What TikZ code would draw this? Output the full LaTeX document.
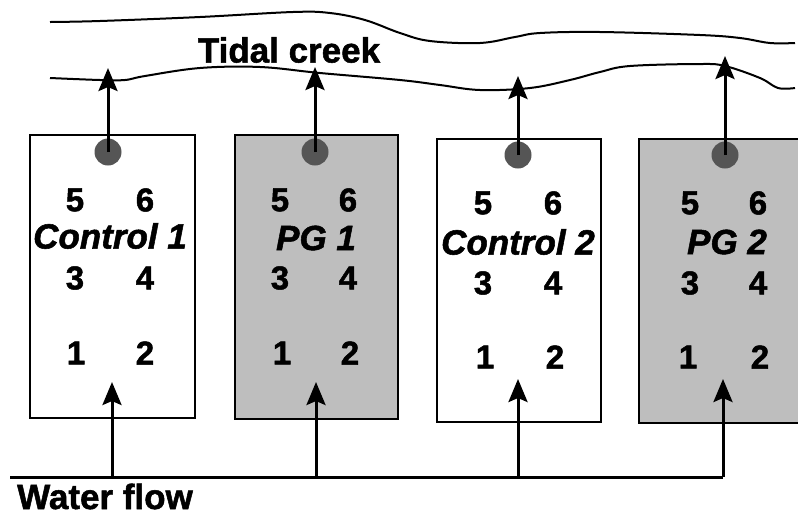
\documentclass[tikz,border=0pt]{standalone}
\usepackage{fontspec}
\setmainfont{Liberation Sans}[BoldFeatures={FakeBold=1.5}, BoldItalicFeatures={FakeBold=1.5}]
\usetikzlibrary{arrows.meta}
\definecolor{plotgray}{HTML}{BEBEBE}
\definecolor{dotgray}{HTML}{555555}
\tikzset{
  plotbox/.style={draw=black, line width=2pt, rectangle, inner sep=0pt},
  ctrlbox/.style={plotbox, fill=white},
  pgbox/.style={plotbox, fill=plotgray},
  outlet/.style={circle, fill=dotgray, minimum size=27pt, inner sep=0pt},
  digit/.style={inner sep=0pt, font=\fontsize{33}{33}\selectfont\bfseries},
  plotlabel/.style={inner sep=0pt, font=\fontsize{35}{35}\selectfont\bfseries\itshape},
  title/.style={inner sep=0pt, font=\fontsize{35}{35}\selectfont\bfseries},
  flow/.style={line width=3pt, -{Stealth[length=23pt,width=19pt,inset=4pt]}},
  shore/.style={line width=2pt}
}
\begin{document}
\begin{tikzpicture}[x=1pt,y=-1pt]
\useasboundingbox (0,0) rectangle (798,515);
% creek banks
\draw[shore] plot[smooth, tension=0.6] coordinates {(50,22) (100,21) (200,17) (293,12) (330,13) (365,20) (400,33) (430,41) (480,43) (515,37) (540,33) (600,32) (700,35) (740,38) (770,43) (795,43)};
\draw[shore] plot[smooth, tension=0.6] coordinates {(50,78) (100,80) (125,80) (145,76) (200,68) (260,67) (320,73) (400,80) (440,85) (480,90) (530,88) (570,80) (600,72) (630,66) (700,64) (725,66) (760,78) (778,88) (795,88)};
\node[title] (creek) at (289,50) {Tidal creek};
% plots
\node[ctrlbox, minimum width=165pt, minimum height=283pt] (p1) at (112.5,276.5) {};
\node[pgbox, minimum width=163pt, minimum height=284pt] (p2) at (316.5,277) {};
\node[ctrlbox, minimum width=164pt, minimum height=283pt] (p3) at (519,280.5) {};
\node[pgbox, minimum width=166pt, minimum height=284pt] (p4) at (722,281) {};
% outlets
\node[outlet] (d1) at (108,152) {};
\node[outlet] (d2) at (315,152) {};
\node[outlet] (d3) at (518,155) {};
\node[outlet] (d4) at (725,155) {};
% outflow tips
\coordinate (c1) at (108,68);
\coordinate (c2) at (315,67);
\coordinate (c3) at (518,76);
\coordinate (c4) at (725,56);
\draw[flow] (d1.center) -- (c1);
\draw[flow] (d2.center) -- (c2);
\draw[flow] (d3.center) -- (c3);
\draw[flow] (d4.center) -- (c4);
% labels box 1
\node[digit] (b1n5) at (75,200) {5};
\node[digit] (b1n6) at (145,200) {6};
\node[plotlabel] (l1) at (110,236) {Control 1};
\node[digit] (b1n3) at (75,278) {3};
\node[digit] (b1n4) at (145,278) {4};
\node[digit] (b1n1) at (76,353) {1};
\node[digit] (b1n2) at (145,353) {2};
% box 2
\node[digit] (b2n5) at (280,200) {5};
\node[digit] (b2n6) at (348,200) {6};
\node[plotlabel] (l2) at (316,238) {PG 1};
\node[digit] (b2n3) at (280,278) {3};
\node[digit] (b2n4) at (348,278) {4};
\node[digit] (b2n1) at (282,353) {1};
\node[digit] (b2n2) at (350,353) {2};
% box 3
\node[digit] (b3n5) at (483,203) {5};
\node[digit] (b3n6) at (553,203) {6};
\node[plotlabel] (l3) at (518,242) {Control 2};
\node[digit] (b3n3) at (483,283) {3};
\node[digit] (b3n4) at (553,283) {4};
\node[digit] (b3n1) at (485,357) {1};
\node[digit] (b3n2) at (555,357) {2};
% box 4
\node[digit] (b4n5) at (690,203) {5};
\node[digit] (b4n6) at (758,203) {6};
\node[plotlabel] (l4) at (727,242) {PG 2};
\node[digit] (b4n3) at (690,283) {3};
\node[digit] (b4n4) at (758,283) {4};
\node[digit] (b4n1) at (688,357) {1};
\node[digit] (b4n2) at (760,357) {2};
% water flow
\coordinate (wl) at (10,477);
\coordinate (wr) at (723,477);
\draw[line width=3pt] (wl) -- (wr);
\coordinate (w1) at (112,477);
\coordinate (w2) at (316,477);
\coordinate (w3) at (518,477);
\coordinate (w4) at (723,477);
\coordinate (i1) at (112,382);
\coordinate (i2) at (316,382);
\coordinate (i3) at (518,379);
\coordinate (i4) at (723,379);
\draw[flow] (w1) -- (i1);
\draw[flow] (w2) -- (i2);
\draw[flow] (w3) -- (i3);
\draw[flow] (w4) -- (i4);
\node[title, anchor=base west] (wf) at (17,509) {Water flow};
\end{tikzpicture}
\end{document}
